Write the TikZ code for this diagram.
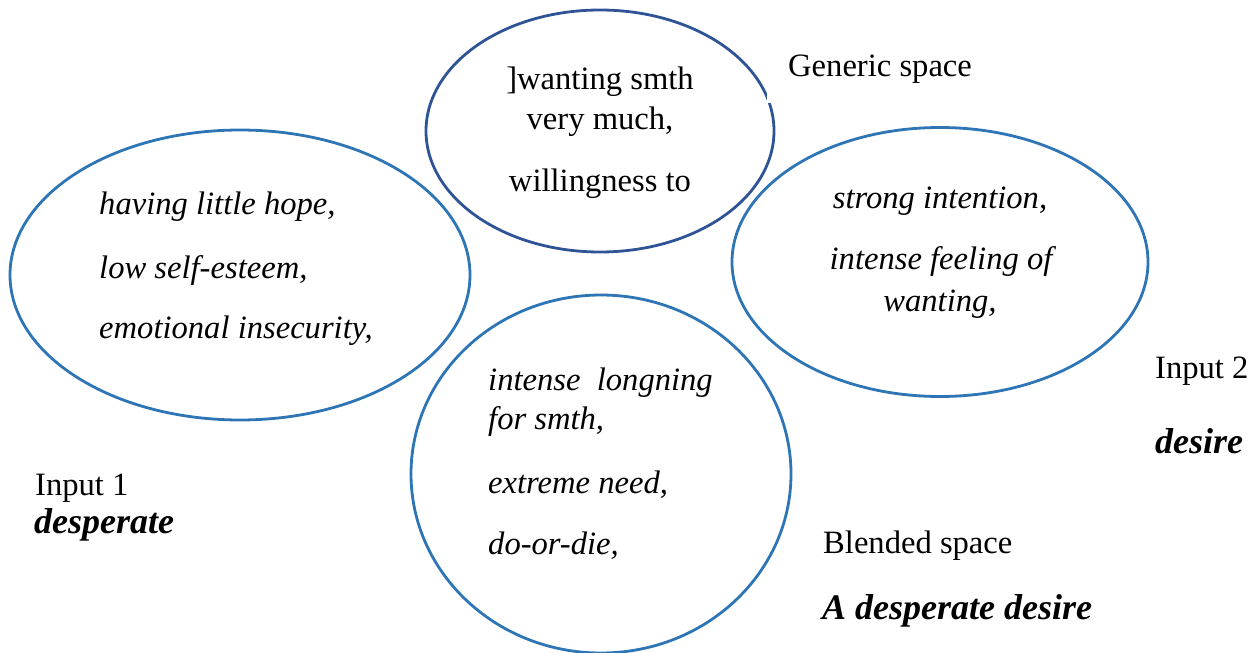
\documentclass[tikz,border=0pt]{standalone}
\usepackage{fontspec}
\setmainfont{Liberation Serif}
\usetikzlibrary{shapes.geometric}
\definecolor{spaceblue}{RGB}{46,117,182}
\definecolor{genblue}{RGB}{47,84,150}
\begin{document}
\begin{tikzpicture}[x=1pt, y=-1pt,
    every node/.style={font=\fontsize{32.6}{39}\selectfont, inner sep=0pt},
    space/.style={ellipse, draw=spaceblue, line width=2.8pt},
    entry/.style={font=\fontsize{32.6}{39}\selectfont\itshape, anchor=base west},
    centry/.style={font=\fontsize{32.6}{39}\selectfont\itshape, anchor=base},
    word/.style={font=\fontsize{36}{42}\selectfont\bfseries\itshape, anchor=base west}]
    \useasboundingbox (0,0) rectangle (1259,653);
    \node(input1) [space, minimum width=460pt, minimum height=290pt] at (240,275) {};
    \node(generic) [space, draw=genblue, minimum width=348pt, minimum height=242pt] at (600,131) {};
    \node(input2) [space, minimum width=416pt, minimum height=269pt] at (940,262) {};
    \node(blend) [space, minimum width=380pt, minimum height=358pt] at (601,474) {};
    \node(genlabel) [anchor=base west, fill=white, inner xsep=21pt, inner ysep=20pt] at (767,76) {Generic space};
    \node(g1) [anchor=base] at (600,89) {]wanting smth};
    \node(g2) [anchor=base] at (600,129) {very much,};
    \node(g3) [anchor=base] at (600,191) {willingness to};
    \node(d1) [entry] at (99,214) {having little hope,};
    \node(d2) [entry] at (99,278) {low self-esteem,};
    \node(d3) [entry] at (99,338) {emotional insecurity,};
    \node(s1) [centry] at (940,208) {strong intention,};
    \node(s2) [centry] at (941,269) {intense feeling of};
    \node(s3) [centry] at (940,311) {wanting,};
    \node(b1) [entry] at (488,390) {intense\ \ longning};
    \node(b2) [entry] at (488,429) {for smth,};
    \node(b3) [entry] at (488,493) {extreme need,};
    \node(b4) [entry] at (488,554) {do-or-die,};
    \node(in1) [anchor=base west] at (35,495) {Input 1};
    \node(in1word) [word] at (34,533) {desperate};
    \node(in2) [anchor=base west] at (1155,378) {Input 2};
    \node(in2word) [word] at (1155,453) {desire};
    \node(blendlabel) [anchor=base west] at (823,553) {Blended space};
    \node(blendword) [word] at (822,619) {A desperate desire};
\end{tikzpicture}
\end{document}
